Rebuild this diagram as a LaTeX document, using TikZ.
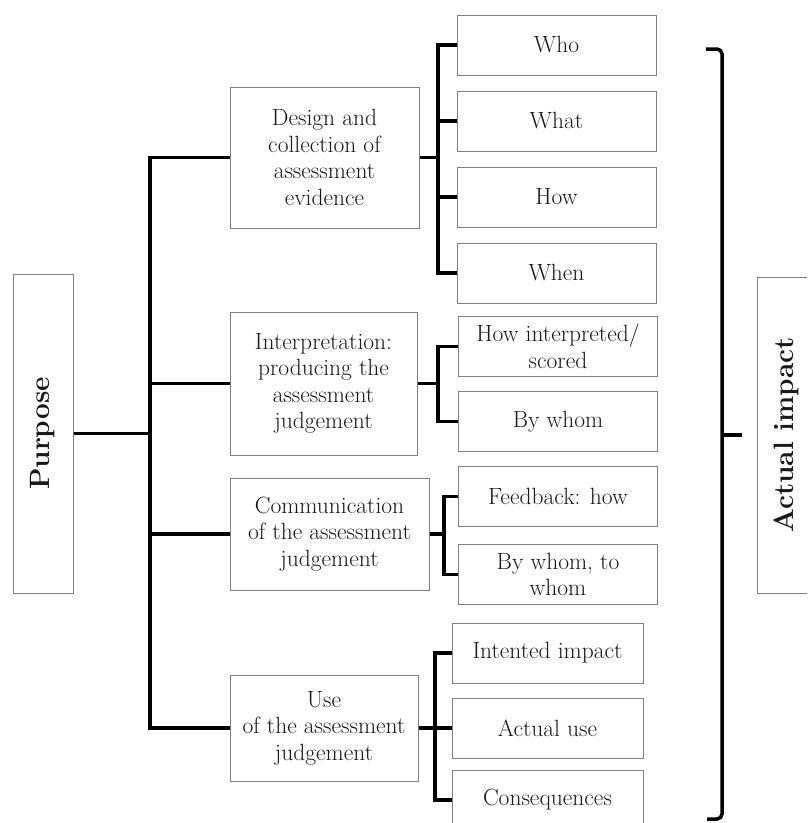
\documentclass[tikz,border=0pt]{standalone}
\usepackage{tikz}
\usetikzlibrary{calc,positioning}

\begin{document}
\begin{tikzpicture}[
    x=1pt, y=-1pt,
    node distance=15pt,
    box/.style={draw=black!50, line width=1pt, fill=white, text=black!90,
        align=center, inner sep=1pt, font=\fontsize{23.5}{26.5}\selectfont},
    leaf/.style={box, minimum width=199pt, minimum height=60pt},
    side/.style={box, font=\fontsize{28}{32}\selectfont\bfseries},
    link/.style={line width=3.5pt, black},
    ]
    \useasboundingbox (0,0) rectangle (807,823);
    \clip (0,0) rectangle (807,823);

    \node[side, minimum width=60pt, minimum height=319pt] (purpose) at (43,433.5) {\rotatebox{90}{Purpose}}; % Root node

    % stages
    \node[box, minimum width=189pt, minimum height=141pt] (design) at (324.5,157.5) {Design and\\collection of\\assessment\\evidence};
    \node[box, minimum width=187pt, minimum height=143pt] (interp) at (323.5,383.5) {Interpretation:\\producing the\\assessment\\judgement};
    \node[box, minimum width=199pt, minimum height=112pt] (comm) at (329.5,534) {Communication\\of the assessment\\judgement};
    \node[box, minimum width=188pt, minimum height=106pt] (use) at (324,728) {Use\\of the assessment\\judgement};

    % details
    \node[leaf] (who) at (556.5,45) {Who};
    \node[leaf, below=of who] (what) {What};
    \node[leaf, below=of what] (how) {How};
    \node[leaf, below=of how] (when) {When};

    \node[leaf] (howint) at (558,346.5) {How interpreted/\\scored};
    \node[leaf, below=14pt of howint] (bywhom) {By whom};

    \node[leaf] (feedback) at (558,496.5) {Feedback: how};
    \node[leaf, below=17pt of feedback] (bywhomto) {By whom, to\\whom};

    \node[leaf, minimum width=191pt] (intended) at (547.5,653) {Intented impact};
    \node[leaf, minimum width=191pt, below=14pt of intended] (actualuse) {Actual use};
    \node[leaf, minimum width=191pt, below=11pt of actualuse] (conseq) {Consequences};

    \node[side, minimum width=58pt, minimum height=316pt] (impact) at (786,435) {\rotatebox{90}{Actual impact}};

    % connectors
    \coordinate (spine) at (150,0);
    \foreach \m in {design,interp,comm,use}
        \draw[link] (purpose.east) -- (purpose.east -| spine) |- (\m.west);

    \foreach \p/\c in {design/who,design/what,design/how,design/when,
                       interp/howint,interp/bywhom,
                       comm/feedback,comm/bywhomto,
                       use/intended,use/actualuse,use/conseq}
        \draw[link] (\p.east) -- ($(\p.east)!.5!(\p.east -| \c.west)$) |- (\c.west);

    % bracket
    \coordinate (btop) at (706,49);
    \coordinate (bbot) at (707,819);
    \coordinate (bx) at (722,0);
    \draw[link, rounded corners=5pt] (btop) -- (btop -| bx) -- (bbot -| bx) -- (bbot);
    \draw[link] (bx |- impact.west) -- ++(20,0);
\end{tikzpicture}
\end{document}
